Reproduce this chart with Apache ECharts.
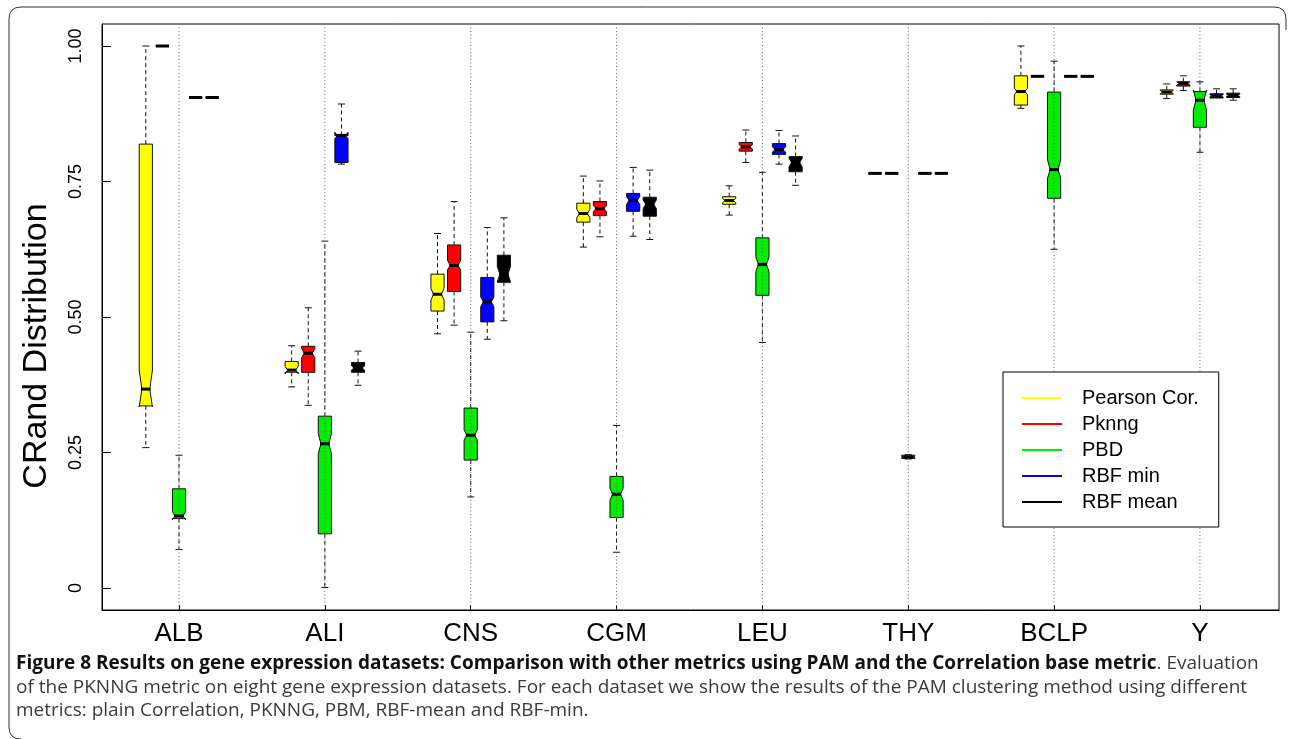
<!DOCTYPE html>
<html>
<head>
<meta charset="utf-8">
<script src="https://cdn.jsdelivr.net/npm/echarts@6/dist/echarts.min.js"></script>
<style>html,body{margin:0;padding:0;background:#fff}#c{width:1292px;height:739px}</style>
</head>
<body>
<div id="c"></div>
<script>
// ---- data ----
const categories = ['ALB', 'ALI', 'CNS', 'CGM', 'LEU', 'THY', 'BCLP', 'Y'];
const yTicks = [0, 0.25, 0.5, 0.75, 1];
const seriesNames = ['Pearson Cor.', 'Pknng', 'PBD', 'RBF min', 'RBF mean'];
// each row: [whiskerLow, Q1, median, Q3, whiskerHigh, notchLow, notchHigh]
const pearson = [
  [0.259, 0.336, 0.367, 0.819, 1.000, 0.334, 0.402],
  [0.371, 0.398, 0.402, 0.418, 0.447, 0.395, 0.409],
  [0.469, 0.511, 0.542, 0.579, 0.654, 0.531, 0.553],
  [0.629, 0.675, 0.691, 0.710, 0.760, 0.683, 0.699],
  [0.688, 0.708, 0.715, 0.722, 0.742, 0.711, 0.719],
  [0.765, 0.765, 0.765, 0.765, 0.765, 0.765, 0.765],
  [0.885, 0.891, 0.916, 0.945, 1.000, 0.910, 0.922],
  [0.903, 0.911, 0.915, 0.919, 0.930, 0.912, 0.918]
];
const pknng = [
  [1.000, 1.000, 1.000, 1.000, 1.000, 1.000, 1.000],
  [0.337, 0.398, 0.433, 0.446, 0.517, 0.425, 0.442],
  [0.485, 0.547, 0.595, 0.633, 0.713, 0.587, 0.605],
  [0.648, 0.687, 0.700, 0.713, 0.751, 0.694, 0.706],
  [0.785, 0.806, 0.814, 0.822, 0.845, 0.810, 0.818],
  [0.765, 0.765, 0.765, 0.765, 0.765, 0.765, 0.765],
  [0.944, 0.944, 0.944, 0.944, 0.944, 0.944, 0.944],
  [0.918, 0.926, 0.931, 0.934, 0.945, 0.928, 0.934]
];
const pbd = [
  [0.071, 0.128, 0.133, 0.183, 0.245, 0.126, 0.141],
  [0.001, 0.100, 0.266, 0.317, 0.640, 0.248, 0.285],
  [0.168, 0.236, 0.282, 0.332, 0.472, 0.273, 0.292],
  [0.066, 0.130, 0.173, 0.206, 0.300, 0.162, 0.184],
  [0.453, 0.540, 0.597, 0.646, 0.767, 0.584, 0.611],
  [0.238, 0.239, 0.242, 0.245, 0.246, 0.241, 0.243],
  [0.625, 0.719, 0.772, 0.915, 0.972, 0.756, 0.790],
  [0.804, 0.850, 0.900, 0.916, 0.934, 0.882, 0.919]
];
const rbfMin = [
  [0.905, 0.905, 0.905, 0.905, 0.905, 0.905, 0.905],
  [0.782, 0.785, 0.835, 0.835, 0.893, 0.829, 0.841],
  [0.459, 0.491, 0.528, 0.573, 0.665, 0.519, 0.537],
  [0.649, 0.695, 0.715, 0.728, 0.776, 0.708, 0.722],
  [0.782, 0.800, 0.809, 0.820, 0.844, 0.804, 0.814],
  [0.765, 0.765, 0.765, 0.765, 0.765, 0.765, 0.765],
  [0.944, 0.944, 0.944, 0.944, 0.944, 0.944, 0.944],
  [0.904, 0.904, 0.908, 0.912, 0.921, 0.906, 0.910]
];
const rbfMean = [
  [0.905, 0.905, 0.905, 0.905, 0.905, 0.905, 0.905],
  [0.374, 0.398, 0.406, 0.416, 0.437, 0.402, 0.410],
  [0.493, 0.564, 0.579, 0.614, 0.683, 0.565, 0.593],
  [0.643, 0.686, 0.708, 0.721, 0.771, 0.700, 0.716],
  [0.743, 0.768, 0.785, 0.796, 0.834, 0.777, 0.793],
  [0.765, 0.765, 0.765, 0.765, 0.765, 0.765, 0.765],
  [0.944, 0.944, 0.944, 0.944, 0.944, 0.944, 0.944],
  [0.900, 0.905, 0.909, 0.913, 0.921, 0.907, 0.911]
];
const seriesData = [pearson, pknng, pbd, rbfMin, rbfMean];
const seriesColors = ['#ffff00', '#ff0000', '#00ee00', '#0000ff', '#000000'];

// ---- rendering ----
const chart = echarts.init(document.getElementById('c'), null, { renderer: 'canvas' });
const DODGE = 16.6, HW = 6.6, WAIST = 0.6, MED = 0.72, CAP = 3.5;

function boxRenderer(k) {
  const off = (k - 2) * DODGE;
  return function (params, api) {
    const pos = api.value(0);
    const v = [1, 2, 3, 4, 5, 6, 7].map(i => api.value(i));
    const lo = v[0], q1 = v[1], med = v[2], q3 = v[3], hi = v[4], nLo = v[5], nHi = v[6];
    const x = api.coord([pos, med])[0] + off;
    const Y = val => api.coord([pos, val])[1];
    const kids = [];
    const wStyle = { stroke: '#111', lineWidth: 1, lineDash: [4, 3] };
    const cStyle = { stroke: '#111', lineWidth: 1 };
    if (hi > q3) {
      kids.push({ type: 'line', shape: { x1: x, y1: Y(q3), x2: x, y2: Y(hi) }, style: wStyle });
      kids.push({ type: 'line', shape: { x1: x - CAP, y1: Y(hi), x2: x + CAP, y2: Y(hi) }, style: cStyle });
    }
    if (lo < q1) {
      kids.push({ type: 'line', shape: { x1: x, y1: Y(q1), x2: x, y2: Y(lo) }, style: wStyle });
      kids.push({ type: 'line', shape: { x1: x - CAP, y1: Y(lo), x2: x + CAP, y2: Y(lo) }, style: cStyle });
    }
    const L = x - HW, R = x + HW, wl = x - HW * WAIST, wr = x + HW * WAIST;
    const flat = (q3 - q1) < 0.002;
    const pts = flat
      ? [[L, Y(q1)], [R, Y(q1)], [R, Y(q3)], [L, Y(q3)]]
      : [[L, Y(q1)], [L, Y(nLo)], [wl, Y(med)], [L, Y(nHi)], [L, Y(q3)],
         [R, Y(q3)], [R, Y(nHi)], [wr, Y(med)], [R, Y(nLo)], [R, Y(q1)]];
    kids.push({ type: 'polygon', shape: { points: pts },
      style: { fill: seriesColors[k], stroke: '#111', lineWidth: 1 } });
    const mw = flat ? HW : HW * MED;
    kids.push({ type: 'line', shape: { x1: x - mw, y1: Y(med), x2: x + mw, y2: Y(med) },
      style: { stroke: '#000', lineWidth: 3 } });
    return { type: 'group', children: kids };
  };
}

const series = seriesData.map((arr, k) => ({
  name: seriesNames[k],
  type: 'custom',
  color: seriesColors[k],
  itemStyle: { color: seriesColors[k] },
  renderItem: boxRenderer(k),
  encode: { x: 0, y: [1, 2, 3, 4, 5] },
  data: arr.map((row, i) => [i + 1].concat(row)),
  z: 2,
  silent: true
}));
// dotted vertical guide lines at each dataset position
series.push({
  name: 'guides',
  type: 'custom',
  silent: true,
  z: 3,
  renderItem: function (params, api) {
    const cs = params.coordSys;
    const x = api.coord([api.value(0), 0])[0];
    return { type: 'line', shape: { x1: x, y1: cs.y, x2: x, y2: cs.y + cs.height },
      style: { stroke: '#666', lineWidth: 1, lineDash: [1, 2.5] } };
  },
  encode: { x: 0 },
  data: categories.map((c, i) => [i + 1])
});

const frameStyle = { stroke: '#333', fill: null, lineWidth: 1 };
const option = {
  animation: false,
  backgroundColor: '#fff',
  grid: { left: 102, top: 24, width: 1177, height: 586, show: true, borderColor: '#000', borderWidth: 1 },
  xAxis: {
    type: 'value', min: 0.472, max: 8.542,
    axisLine: { show: true, onZero: false, lineStyle: { color: '#000' } },
    axisTick: { show: true, inside: true, length: 5, customValues: categories.map((c, i) => i + 1), lineStyle: { color: '#000' } },
    axisLabel: { customValues: categories.map((c, i) => i + 1), formatter: v => categories[Math.round(v) - 1],
      fontFamily: 'Liberation Sans', fontSize: 26, color: '#000', margin: 11 },
    splitLine: { show: false }
  },
  yAxis: {
    type: 'value', min: -0.0406, max: 1.0406,
    axisLine: { show: true, onZero: false, lineStyle: { color: '#000' } },
    axisTick: { show: true, inside: true, length: 9, customValues: yTicks, lineStyle: { color: '#000' } },
    axisLabel: { customValues: yTicks, rotate: 90, formatter: v => (v === 0 ? '0' : v.toFixed(2)),
      fontFamily: 'Liberation Sans', fontSize: 18, color: '#000', margin: 17 },
    splitLine: { show: false }
  },
  legend: {
    data: seriesNames,
    orient: 'vertical',
    left: 1003, top: 372,
    padding: [13, 20, 12, 19],
    itemGap: 0,
    itemWidth: 40, itemHeight: 2,
    icon: 'rect',
    selectedMode: false,
    backgroundColor: '#fff',
    borderColor: '#000', borderWidth: 1,
    textStyle: { fontFamily: 'Liberation Sans', fontSize: 20, color: '#000', lineHeight: 26, padding: [0, 0, 0, 15] }
  },
  graphic: [
    { type: 'text', x: 37, y: 346, rotation: Math.PI / 2, z: 10,
      style: { text: 'CRand Distribution', fontFamily: 'Liberation Sans', fontSize: 34, fill: '#000', align: 'center', verticalAlign: 'middle' } },
    { type: 'polyline', z: 10, shape: { points: [[1286, 30], [1286, 19]] }, style: frameStyle },
    { type: 'bezierCurve', z: 10, shape: { x1: 1286, y1: 19, cpx1: 1286, cpy1: 7, x2: 1274, y2: 7 }, style: frameStyle },
    { type: 'polyline', z: 10, shape: { points: [[1274, 7], [21, 7]] }, style: frameStyle },
    { type: 'bezierCurve', z: 10, shape: { x1: 21, y1: 7, cpx1: 9, cpy1: 7, x2: 9, y2: 19 }, style: frameStyle },
    { type: 'polyline', z: 10, shape: { points: [[9, 19], [9, 727]] }, style: frameStyle },
    { type: 'bezierCurve', z: 10, shape: { x1: 9, y1: 727, cpx1: 9, cpy1: 739, x2: 21, y2: 739 }, style: frameStyle },
    { type: 'text', x: 16, y: 664, z: 10,
      style: { text: '{b|Figure 8 Results on gene expression datasets: Comparison with other metrics using PAM and the Correlation base metric}{n|. Evaluation}',
        verticalAlign: 'middle',
        rich: {
          b: { fontFamily: 'Open Sans', fontWeight: 'bold', fontSize: 19, fill: '#111', color: '#111' },
          n: { fontFamily: 'Open Sans', fontSize: 19, fill: '#3a3a3a', color: '#3a3a3a' }
        } } },
    { type: 'text', x: 16, y: 688, z: 10,
      style: { text: 'of the PKNNG metric on eight gene expression datasets. For each dataset we show the results of the PAM clustering method using different',
        fontFamily: 'Open Sans', fontSize: 19, fill: '#3a3a3a', verticalAlign: 'middle' } },
    { type: 'text', x: 16, y: 711, z: 10,
      style: { text: 'metrics: plain Correlation, PKNNG, PBM, RBF-mean and RBF-min.',
        fontFamily: 'Open Sans', fontSize: 19, fill: '#3a3a3a', verticalAlign: 'middle' } }
  ],
  series: series
};
chart.setOption(option);
</script>
</body>
</html>
